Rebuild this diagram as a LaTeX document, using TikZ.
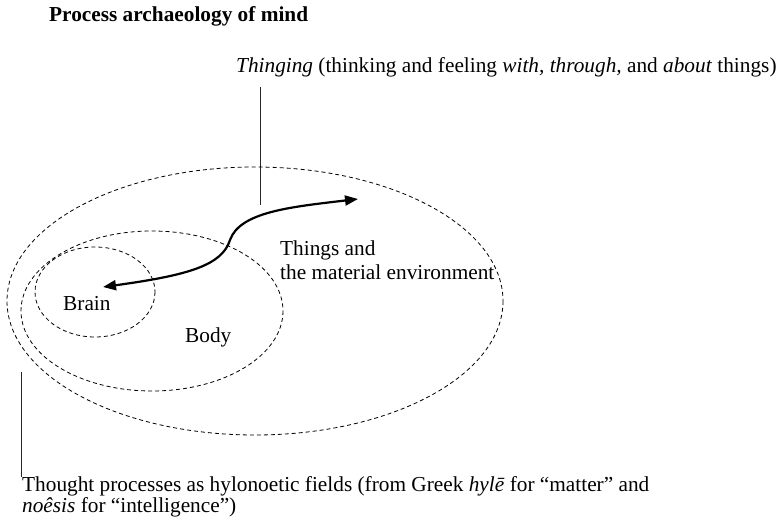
\documentclass[tikz,border=0pt]{standalone}
\usepackage{fontspec}
\setmainfont{Liberation Serif}
\usetikzlibrary{arrows.meta}
\begin{document}
\begin{tikzpicture}[x=1pt,y=-1pt,
  lbl/.style={inner sep=0pt,anchor=base west,font=\fontsize{21.3}{24}\selectfont},
  field/.style={draw,dashed,dash pattern=on 4pt off 3pt,line width=0.8pt},
  leader/.style={line width=1pt,draw=black!85},
  flow/.style={line width=2.2pt,{Triangle[length=13pt,width=10pt]}-{Triangle[length=13pt,width=10pt]}}]
\useasboundingbox (0,0) rectangle (777,521);
\node[lbl,font=\fontsize{21.3}{24}\selectfont\bfseries] (title) at (49,22) {Process archaeology of mind};
\node[lbl] (thing) at (236,73) {\textit{Thinging} (thinking and feeling \textit{with, through,} and \textit{about} things)};
\coordinate (ta) at (260,87);
\coordinate (tb) at (260,205);
\draw[leader] (ta) -- (tb);
\draw[field] (255,301) ellipse[x radius=248, y radius=134];
\draw[field] (152,311) ellipse[x radius=131, y radius=80];
\draw[field] (95,292) ellipse[x radius=60, y radius=45];
\node[lbl] (brain) at (63,311) {Brain};
\node[lbl] (body) at (185,343) {Body};
\node[lbl,align=left] (env) at (280,280) {Things and\\the material environment};
\coordinate (a1) at (103,287);
\coordinate (a2) at (230,240);
\coordinate (a3) at (358,199);
\draw[flow] (a1) .. controls (190,275) and (222,265) .. (a2) .. controls (240,212) and (290,207) .. (a3);
\coordinate (ba) at (21,372);
\coordinate (bb) at (21,477);
\draw[leader] (ba) -- (bb);
\node[lbl,align=left,font=\fontsize{21.3}{19.5}\selectfont] (thought) at (22,512) {Thought processes as hylonoetic fields (from Greek \textit{hylē} for “matter” and\\\textit{noêsis} for “intelligence”)};
\end{tikzpicture}
\end{document}
